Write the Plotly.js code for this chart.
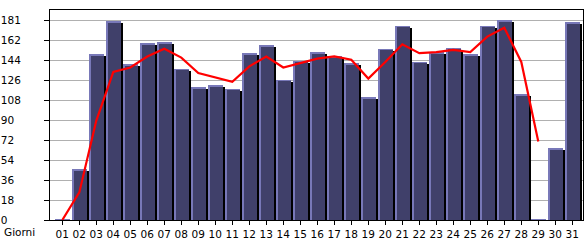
<!DOCTYPE html>
<html><head><meta charset="utf-8">
<script src="https://cdn.plot.ly/plotly-3.0.1.min.js"></script>
<style>html,body{margin:0;padding:0;background:#fff}#chart{width:585px;height:240px}</style>
</head><body><div id="chart"></div>
<script>
const dayNumbers = [1,2,3,4,5,6,7,8,9,10,11,12,13,14,15,16,17,18,19,20,21,22,23,24,25,26,27,28,29,30,31];
const dayLabels = ["01","02","03","04","05","06","07","08","09","10","11","12","13","14","15","16","17","18","19","20","21","22","23","24","25","26","27","28","29","30","31"];
const visits = [1,46,150,180,141,160,161,137,120,122,119,151,158,127,144,152,148,142,111,155,176,143,152,156,150,176,181,114,1,65,179];
const trendDays = [1,2,3,4,5,6,7,8,9,10,11,12,13,14,15,16,17,18,19,20,21,22,23,24,25,26,27,28,29];
const trend = [0,25,90,134,138,148,155,147,133,129,125,139,148,138,142,146,148,145,128,143,159,151,152,154,152,166,174,143,71];
const yTickVals = [0,18.1,36.2,54.3,72.4,90.5,108.6,126.7,144.8,162.9,181];
const yTickLabels = ["0","18","36","54","72","90","108","126","144","162","181"];

const pxX = 1/17;          // one pixel in x data units
const pxY = 181/200;       // one pixel in y data units
const barW = 15*pxX;
const fs = "\u2007";
const yText = yTickLabels.map(t => t + fs.repeat(3 - t.length));

const shadow = {
  type:'bar', x: dayNumbers, y: visits.map(v => Math.max(0, v - 2*pxY)),
  width: barW, offset: -barW/2 + 2.5*pxX,
  marker:{color:'#000000', line:{width:0}}, hoverinfo:'skip'
};
const edge = {
  type:'bar', x: dayNumbers, y: visits,
  width: barW, offset: -barW/2,
  marker:{color:'#7878b8', line:{width:0}}, hoverinfo:'skip'
};
const body = {
  type:'bar', x: dayNumbers, y: visits.map(v => Math.max(0, v - 1.5*pxY)),
  width: barW - 2*pxX, offset: -barW/2 + 2*pxX,
  marker:{color:'#40406a', line:{width:0}}, hoverinfo:'skip'
};
const line = {
  type:'scatter', mode:'lines', x: trendDays, y: trend,
  line:{color:'#ff0000', width:2.2}, hoverinfo:'skip'
};

const layout = {
  width:585, height:240,
  margin:{l:50, r:2, t:10, b:20, pad:0},
  paper_bgcolor:'#ffffff', plot_bgcolor:'#ffffff',
  showlegend:false, barmode:'overlay', bargap:0,
  font:{family:'DejaVu Sans', size:10.5, color:'#000000'},
  xaxis:{
    range:[0.276, 31.63], tickmode:'array', tickvals:dayNumbers, ticktext:dayLabels,
    ticks:'outside', ticklen:4, tickcolor:'#000', tickwidth:1,
    showgrid:false, zeroline:false,
    showline:true, linecolor:'#000', linewidth:1, mirror:true,
    tickfont:{family:'DejaVu Sans', size:10.5, color:'#000'}, fixedrange:true
  },
  yaxis:{
    range:[0, 190.05], tickmode:'array', tickvals:yTickVals, ticktext:yText,
    ticks:'outside', ticklen:5, tickcolor:'#000', tickwidth:1,
    ticklabelstandoff:21,
    showgrid:true, gridcolor:'#b0b0b0', gridwidth:1, zeroline:false,
    showline:true, linecolor:'#000', linewidth:1, mirror:true,
    tickfont:{family:'DejaVu Sans', size:10.5, color:'#000'}, fixedrange:true
  },
  annotations:[{
    text:'Giorni', xref:'paper', yref:'paper', x:-48/533, y:0, yshift:-12,
    xanchor:'left', yanchor:'middle', showarrow:false,
    font:{family:'DejaVu Sans', size:10.5, color:'#000'}
  }]
};
Plotly.newPlot('chart', [shadow, edge, body, line], layout, {staticPlot:true, displayModeBar:false});
</script>
</body></html>
